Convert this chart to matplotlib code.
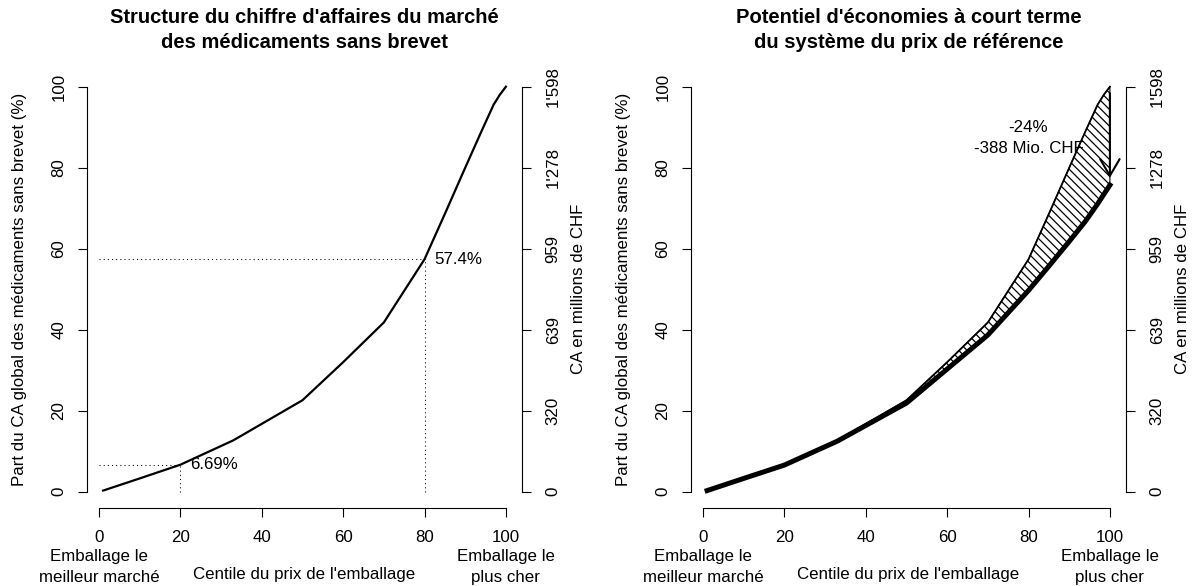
import matplotlib.pyplot as plt

plt.rcParams['font.family'] = ['Liberation Sans', 'DejaVu Sans']
plt.rcParams['hatch.linewidth'] = 0.9

# courbe cumulée du CA
centile = [1, 10, 20, 33, 50, 60, 70, 80, 85, 90, 94, 97, 98.5, 100]
part_ca = [0.3, 3.3, 6.69, 12.7, 22.6, 32.0, 41.8, 57.4, 68.6, 80.0, 89.0, 95.6, 98.0, 100.0]
# avec le système du prix de référence
part_ca_ref = [0.3, 3.3, 6.6, 12.5, 21.9, 30.3, 38.7, 49.7, 55.7, 61.8, 66.8, 71.1, 73.4, 75.7]

marque_x = [20, 80]
marque_y = [6.69, 57.4]
marque_txt = ['6.69%', '57.4%']

yticks = [0, 20, 40, 60, 80, 100]
chf_labels = ['0', '320', '639', '959', "1'278", "1'598"]
xticks = [0, 20, 40, 60, 80, 100]

economie_txt = '-24%\n-388 Mio. CHF'
fleche_haut = 98.4
fleche_bas = 77.5

FS = 12.15
TFS = 14.5


def panel(rect, title):
    ax = fig.add_axes(rect)
    ax.set_xlim(-2.96, 103.96)
    ax.set_ylim(-4, 104)
    for s in ['top', 'right']:
        ax.spines[s].set_visible(False)
    ax.spines['left'].set_bounds(0, 100)
    ax.spines['bottom'].set_bounds(0, 100)
    for s in ['left', 'bottom']:
        ax.spines[s].set_linewidth(0.8)
    ax.set_xticks(xticks)
    ax.set_yticks(yticks)
    ax.set_yticklabels([str(v) for v in yticks], rotation=90, va='center')
    ax.tick_params(axis='both', direction='out', length=6.7, width=0.8, labelsize=FS)
    ax.tick_params(axis='x', pad=9.2)
    ax.tick_params(axis='y', pad=8.2)

    ax.set_ylabel('Part du CA global des médicaments sans brevet (%)', fontsize=FS, va='center')
    ax.yaxis.set_label_coords(-0.156, 0.5)
    ax.set_xlabel("Centile du prix de l'emballage", fontsize=FS, va='center')
    ax.xaxis.set_label_coords(0.5, -0.153)

    for xv, txt in [(0, 'Emballage le\nmeilleur marché'), (100, 'Emballage le\nplus cher')]:
        ax.annotate(txt, xy=(xv, 0), xycoords=('data', 'axes fraction'),
                    xytext=(0, -42.5), textcoords='offset points',
                    ha='center', va='center', fontsize=FS, linespacing=1.5)

    ax.set_title(title, fontsize=TFS, fontweight='bold', pad=16, linespacing=1.45)

    ax2 = ax.twinx()
    ax2.set_ylim(ax.get_ylim())
    for s in ['top', 'left', 'bottom']:
        ax2.spines[s].set_visible(False)
    ax2.spines['right'].set_bounds(0, 100)
    ax2.spines['right'].set_linewidth(0.8)
    ax2.set_yticks(yticks)
    ax2.set_yticklabels(chf_labels, rotation=90, va='center')
    ax2.tick_params(axis='y', direction='out', length=6.7, width=0.8, labelsize=FS, pad=10.4)
    ax2.set_ylabel('CA en millions de CHF', fontsize=FS, va='center', rotation=90)
    ax2.yaxis.set_label_coords(1.131, 0.5)
    return ax


fig = plt.figure(figsize=(11.96, 5.86), dpi=100)
W, H = 1196, 586

# panneau gauche
ax = panel([87 / W, 78 / H, 435 / W, 437.5 / H],
           "Structure du chiffre d'affaires du marché\ndes médicaments sans brevet")
ax.plot(centile, part_ca, color='black', lw=1.6, zorder=3)
for xv, yv, txt in zip(marque_x, marque_y, marque_txt):
    ax.plot([0, xv], [yv, yv], color='black', lw=0.75, linestyle=(0, (1, 3)))
    ax.plot([xv, xv], [0, yv], color='black', lw=0.75, linestyle=(0, (1, 3)))
    ax.annotate(txt, xy=(xv, yv), xytext=(7, 0), textcoords='offset points',
                ha='left', va='center', fontsize=FS)

# panneau droit
ax = panel([691 / W, 78 / H, 435 / W, 437.5 / H],
           "Potentiel d'économies à court terme\ndu système du prix de référence")
ax.fill_between(centile, part_ca_ref, part_ca, facecolor='white', edgecolor='black',
                hatch='\\\\\\\\', lw=0.8, zorder=2)
ax.plot(centile, part_ca, color='black', lw=1.3, zorder=3)
ax.plot(centile, part_ca_ref, color='black', lw=3.6, zorder=3)
ax.annotate('', xy=(centile[-1], fleche_bas), xytext=(centile[-1], fleche_haut),
            arrowprops=dict(arrowstyle='->,head_length=0.6,head_width=0.35',
                            mutation_scale=20, lw=1.5, color='black',
                            shrinkA=0, shrinkB=0), zorder=4)
ax.text(80, 87.3, economie_txt, ha='center', va='center', fontsize=FS,
        linespacing=1.45, zorder=5)

fig.savefig('out.png', dpi=100)
